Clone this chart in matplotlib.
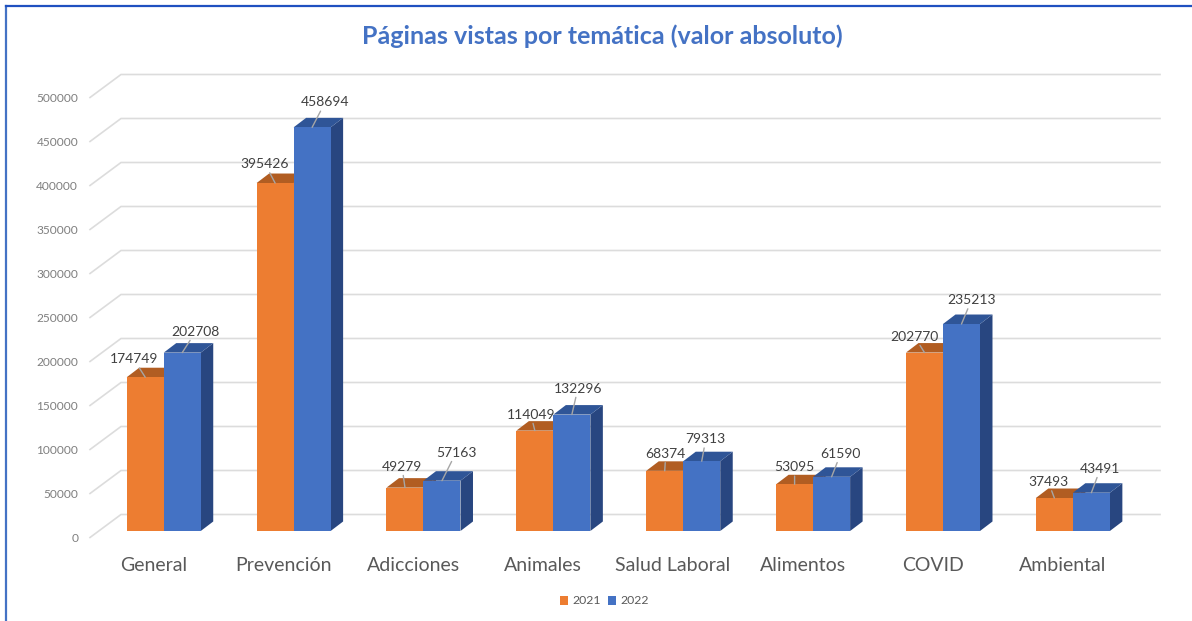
import matplotlib
matplotlib.use("Agg")
import matplotlib.pyplot as plt
from matplotlib.patches import Polygon, Patch, Rectangle
from matplotlib.transforms import ScaledTranslation

categories = ["General", "Prevención", "Adicciones", "Animales", "Salud Laboral", "Alimentos", "COVID", "Ambiental"]
values_2021 = [174749, 395426, 49279, 114049, 68374, 53095, 202770, 37493]
values_2022 = [202708, 458694, 57163, 132296, 79313, 61590, 235213, 43491]
years = ["2021", "2022"]
y_ticks = list(range(0, 500001, 50000))
title = "Páginas vistas por temática (valor absoluto)"

# label offsets in pixels from the top centre of each bar's front face
off_2021 = [(-11.5, 18), (-10, 19), (-3, 21), (-4, 16), (1, 17), (0, 17), (-10, 16), (-6, 16)]
off_2022 = [(13.5, 21), (13, 25), (14, 28), (6, 26), (4, 22), (9, 23), (10, 24), (9, 24)]

W, H = 1192, 621
FONT = "Lato"
plt.rcParams["font.family"] = [FONT, "DejaVu Sans"]
fig = plt.figure(figsize=(W / 100, H / 100), dpi=100, facecolor="white")

# plot box: front edge of the floor
L, R, T, B = 90, 1129, 97.5, 537.5
ax = fig.add_axes([L / W, 1 - B / H, (R - L) / W, (B - T) / H])
ax.set_xlim(-0.5, 7.5)
ax.set_ylim(0, 500000)
ax.patch.set_alpha(0)
for s in ax.spines.values():
    s.set_visible(False)

px_x = 8 / (R - L)        # data units per px
px_y = 500000 / (B - T)
wall_dx, wall_dy = 31 * px_x, 23 * px_y
wall_end = 7.5 + wall_dx
floor_dx, floor_dy = 8.8 * px_x, 6.5 * px_y
bar_w = 37 * px_x
dep_x, dep_y = 12.5 * px_x, 9.5 * px_y

GRID = "#dcdcdc"
for v in y_ticks:
    ax.plot([-0.5, -0.5 + wall_dx, wall_end], [v, v + wall_dy, v + wall_dy],
            color=GRID, lw=1.2, clip_on=False, zorder=1, solid_joinstyle="miter")

def bar3d(x0, v, front, top, side):
    x1 = x0 + bar_w
    y0, y1 = floor_dy, v + floor_dy
    kw = dict(closed=True, clip_on=False, zorder=2, lw=0)
    ax.add_patch(Polygon([(x1, y0), (x1 + dep_x, y0 + dep_y), (x1 + dep_x, y1 + dep_y), (x1, y1)], fc=side, **kw))
    ax.add_patch(Polygon([(x0, y1), (x0 + dep_x, y1 + dep_y), (x1 + dep_x, y1 + dep_y), (x1, y1)], fc=top, **kw))
    ax.add_patch(Rectangle((x0, y0), bar_w, v, fc=front, clip_on=False, zorder=2, lw=0))

ORANGE, BLUE = "#ED7D31", "#4472C4"
for i, (a, b) in enumerate(zip(values_2021, values_2022)):
    cx = i + floor_dx
    bar3d(cx - bar_w, a, ORANGE, "#B15D22", "#AE5A21")
    bar3d(cx, b, BLUE, "#2F5597", "#284680")

LABEL = "#404040"
for i in range(len(categories)):
    cx = i + floor_dx
    for x, v, off in ((cx - bar_w / 2, values_2021[i], off_2021[i]),
                      (cx + bar_w / 2, values_2022[i], off_2022[i])):
        ax.annotate(str(v), xy=(x, v + floor_dy), xytext=off, xycoords="data",
                    textcoords="offset pixels", ha="center", va="center",
                    fontsize=10, color=LABEL, zorder=5, annotation_clip=False,
                    arrowprops=dict(arrowstyle="-", color="#a6a6a6", lw=1.0,
                                    shrinkA=0, shrinkB=0))

ax.set_xticks(range(len(categories)))
ax.set_xticklabels(categories, fontsize=14, color="#595959")
ax.set_yticks(y_ticks)
ax.set_yticklabels([str(v) for v in y_ticks], fontsize=8.6, color="#7f7f7f")
ax.tick_params(axis="x", length=0, pad=14)
ax.tick_params(axis="y", length=0, pad=8.5)
shift = ScaledTranslation(-1.5 / 100, 0, fig.dpi_scale_trans)
for lab in ax.get_xticklabels():
    lab.set_transform(lab.get_transform() + shift)

fig.text(602 / W, 1 - 36 / H, title, ha="center", va="center", fontsize=18,
         fontweight="bold", color="#4472C4")

handles = [Patch(fc=ORANGE, label=years[0]), Patch(fc=BLUE, label=years[1])]
fig.legend(handles=handles, loc="center", bbox_to_anchor=(604.5 / W, 1 - 601 / H), ncol=2,
           frameon=False, fontsize=8.8, handlelength=0.7, handleheight=0.7,
           handletextpad=0.35, columnspacing=0.55, labelcolor="#595959")

# outer frame
fig.add_artist(plt.Line2D([5.5 / W, 5.5 / W], [0, 1 - 6 / H],
                          transform=fig.transFigure, color="#4472C4", lw=1.6))
fig.add_artist(plt.Line2D([5.5 / W, 1], [1 - 6 / H, 1 - 6 / H],
                          transform=fig.transFigure, color="#1F50C0", lw=1.6))

fig.savefig("out.png", dpi=100)
